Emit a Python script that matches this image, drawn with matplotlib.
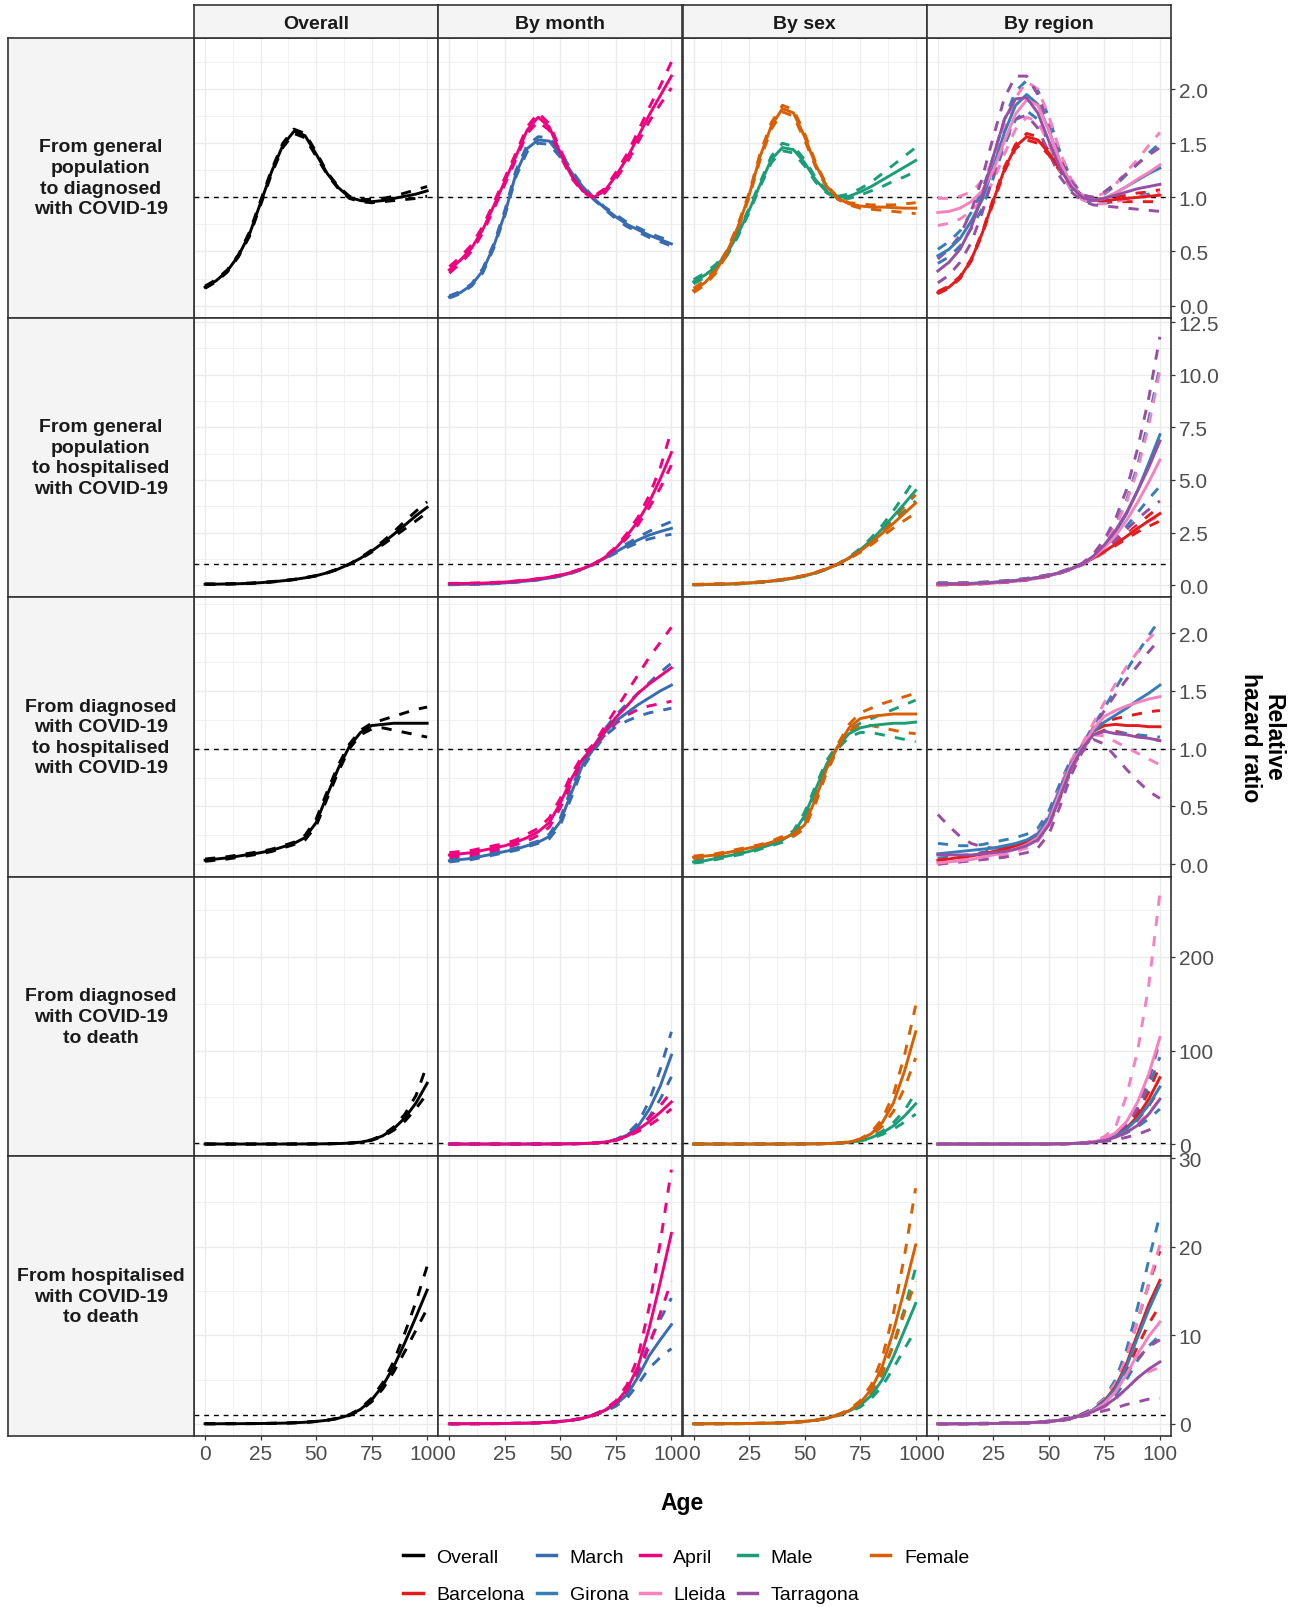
# -*- coding: utf-8 -*-
"""
Relative hazard ratio by age for the COVID-19 transitions, overall and by month, sex and region
"""

import numpy as np
import matplotlib.pyplot as plt
from matplotlib.lines import Line2D

plt.rcParams['font.family'] = ['Liberation Sans', 'DejaVu Sans']

AGES = [0, 5, 10, 15, 20, 25, 30, 35, 40, 45, 50, 55, 60, 65, 70, 75, 80, 85, 90, 95, 100]

# ---- row 1: general population -> diagnosed  (estimate, lower, upper)
r1_overall = [[0.17, 0.23, 0.32, 0.46, 0.66, 0.95, 1.24, 1.48, 1.61, 1.57, 1.40, 1.22, 1.09, 1.00, 0.97, 0.96, 0.97, 0.99, 1.01, 1.03, 1.06],
              [0.16, 0.22, 0.31, 0.45, 0.64, 0.93, 1.22, 1.46, 1.59, 1.55, 1.38, 1.21, 1.08, 0.99, 0.96, 0.95, 0.96, 0.97, 0.98, 0.99, 1.01],
              [0.18, 0.24, 0.33, 0.47, 0.68, 0.97, 1.26, 1.50, 1.63, 1.59, 1.42, 1.23, 1.10, 1.01, 0.98, 0.98, 0.99, 1.01, 1.04, 1.07, 1.10]]
r1_march = [[0.08, 0.12, 0.19, 0.32, 0.55, 0.85, 1.22, 1.45, 1.53, 1.52, 1.39, 1.23, 1.10, 0.99, 0.90, 0.82, 0.75, 0.70, 0.65, 0.61, 0.57],
            [0.07, 0.11, 0.18, 0.30, 0.53, 0.83, 1.19, 1.42, 1.50, 1.49, 1.37, 1.21, 1.09, 0.98, 0.89, 0.80, 0.73, 0.68, 0.63, 0.59, 0.55],
            [0.09, 0.13, 0.20, 0.34, 0.57, 0.88, 1.25, 1.48, 1.56, 1.55, 1.42, 1.25, 1.11, 1.00, 0.91, 0.84, 0.77, 0.72, 0.67, 0.63, 0.60]]
r1_april = [[0.33, 0.42, 0.53, 0.70, 0.92, 1.15, 1.38, 1.62, 1.74, 1.65, 1.41, 1.20, 1.06, 1.00, 1.06, 1.20, 1.36, 1.56, 1.76, 1.94, 2.12],
            [0.30, 0.39, 0.50, 0.67, 0.89, 1.12, 1.35, 1.59, 1.70, 1.62, 1.38, 1.18, 1.05, 0.99, 1.04, 1.17, 1.32, 1.51, 1.70, 1.86, 2.01],
            [0.36, 0.45, 0.56, 0.73, 0.95, 1.18, 1.41, 1.65, 1.78, 1.68, 1.44, 1.22, 1.07, 1.01, 1.08, 1.23, 1.40, 1.61, 1.83, 2.03, 2.25]]
r1_male = [[0.22, 0.28, 0.36, 0.48, 0.66, 0.88, 1.12, 1.35, 1.46, 1.44, 1.32, 1.16, 1.05, 1.00, 1.01, 1.05, 1.10, 1.16, 1.22, 1.28, 1.34],
           [0.20, 0.26, 0.34, 0.46, 0.64, 0.86, 1.10, 1.32, 1.43, 1.41, 1.29, 1.14, 1.04, 0.99, 0.99, 1.02, 1.06, 1.10, 1.15, 1.19, 1.24],
           [0.24, 0.30, 0.38, 0.50, 0.68, 0.90, 1.14, 1.38, 1.50, 1.47, 1.35, 1.18, 1.06, 1.01, 1.03, 1.08, 1.14, 1.22, 1.30, 1.38, 1.46]]
r1_female = [[0.14, 0.21, 0.32, 0.49, 0.73, 1.02, 1.38, 1.66, 1.82, 1.78, 1.56, 1.30, 1.10, 0.99, 0.94, 0.92, 0.91, 0.91, 0.905, 0.90, 0.90],
             [0.12, 0.19, 0.30, 0.47, 0.71, 1.00, 1.35, 1.63, 1.79, 1.75, 1.53, 1.28, 1.09, 0.98, 0.93, 0.90, 0.89, 0.88, 0.87, 0.86, 0.85],
             [0.16, 0.23, 0.34, 0.51, 0.75, 1.04, 1.41, 1.69, 1.85, 1.81, 1.59, 1.32, 1.11, 1.00, 0.95, 0.94, 0.93, 0.93, 0.93, 0.94, 0.95]]
r1_barcelona = [[0.12, 0.17, 0.26, 0.42, 0.67, 0.97, 1.26, 1.47, 1.56, 1.53, 1.41, 1.26, 1.12, 1.00, 0.97, 0.97, 0.98, 0.99, 1.00, 1.01, 1.02],
                [0.11, 0.16, 0.25, 0.41, 0.66, 0.95, 1.24, 1.45, 1.53, 1.50, 1.39, 1.24, 1.11, 0.99, 0.96, 0.95, 0.96, 0.96, 0.96, 0.96, 0.96],
                [0.13, 0.18, 0.27, 0.43, 0.68, 0.99, 1.28, 1.49, 1.59, 1.56, 1.43, 1.28, 1.13, 1.01, 0.98, 0.99, 1.00, 1.02, 1.04, 1.05, 1.07]]
r1_girona = [[0.46, 0.52, 0.62, 0.78, 0.98, 1.28, 1.60, 1.85, 1.95, 1.86, 1.62, 1.33, 1.12, 1.00, 0.97, 0.99, 1.04, 1.10, 1.16, 1.22, 1.27],
             [0.39, 0.45, 0.55, 0.71, 0.90, 1.18, 1.48, 1.72, 1.80, 1.72, 1.50, 1.25, 1.07, 0.98, 0.94, 0.95, 0.97, 0.99, 1.01, 1.03, 1.06],
             [0.52, 0.59, 0.69, 0.86, 1.06, 1.38, 1.72, 1.98, 2.08, 1.99, 1.74, 1.42, 1.17, 1.02, 1.00, 1.03, 1.11, 1.21, 1.31, 1.41, 1.50]]
r1_lleida = [[0.86, 0.87, 0.90, 0.96, 1.06, 1.25, 1.52, 1.77, 1.90, 1.85, 1.62, 1.33, 1.12, 1.00, 0.97, 0.99, 1.04, 1.10, 1.17, 1.23, 1.30],
             [0.74, 0.76, 0.80, 0.87, 0.98, 1.15, 1.40, 1.63, 1.74, 1.70, 1.50, 1.25, 1.07, 0.98, 0.94, 0.94, 0.96, 0.98, 1.00, 1.02, 1.04],
             [0.99, 0.99, 1.01, 1.05, 1.15, 1.35, 1.65, 1.92, 2.07, 2.00, 1.75, 1.42, 1.17, 1.02, 1.00, 1.04, 1.12, 1.24, 1.35, 1.48, 1.60]]
r1_tarragona = [[0.32, 0.40, 0.52, 0.72, 1.02, 1.38, 1.72, 1.91, 1.92, 1.78, 1.52, 1.27, 1.10, 1.00, 0.97, 0.99, 1.02, 1.05, 1.08, 1.10, 1.12],
                [0.21, 0.28, 0.40, 0.58, 0.86, 1.20, 1.52, 1.72, 1.76, 1.64, 1.41, 1.19, 1.05, 0.97, 0.93, 0.92, 0.91, 0.90, 0.89, 0.88, 0.87],
                [0.43, 0.52, 0.65, 0.87, 1.18, 1.56, 1.92, 2.12, 2.12, 1.95, 1.65, 1.36, 1.15, 1.02, 1.00, 1.05, 1.13, 1.22, 1.31, 1.39, 1.46]]

# ---- row 2: general population -> hospitalised
r2_overall = [[0.05, 0.05, 0.06, 0.07, 0.09, 0.12, 0.16, 0.21, 0.27, 0.35, 0.45, 0.59, 0.77, 1.00, 1.28, 1.62, 2.00, 2.42, 2.86, 3.30, 3.70],
              [0.04, 0.04, 0.05, 0.06, 0.08, 0.11, 0.15, 0.20, 0.26, 0.34, 0.44, 0.58, 0.76, 0.99, 1.25, 1.57, 1.92, 2.30, 2.68, 3.06, 3.45],
              [0.06, 0.06, 0.07, 0.08, 0.10, 0.13, 0.17, 0.22, 0.28, 0.36, 0.46, 0.60, 0.78, 1.01, 1.31, 1.67, 2.08, 2.54, 3.04, 3.52, 3.96]]
r2_march = [[0.03, 0.04, 0.05, 0.06, 0.08, 0.11, 0.15, 0.20, 0.26, 0.34, 0.44, 0.58, 0.77, 1.00, 1.28, 1.58, 1.88, 2.15, 2.38, 2.55, 2.70],
            [0.02, 0.03, 0.04, 0.05, 0.07, 0.10, 0.14, 0.19, 0.25, 0.33, 0.43, 0.57, 0.76, 0.99, 1.25, 1.53, 1.79, 2.02, 2.20, 2.32, 2.42],
            [0.04, 0.05, 0.06, 0.07, 0.09, 0.12, 0.16, 0.21, 0.27, 0.35, 0.45, 0.59, 0.78, 1.01, 1.31, 1.63, 1.97, 2.28, 2.56, 2.80, 3.02]]
r2_april = [[0.08, 0.08, 0.09, 0.10, 0.12, 0.15, 0.19, 0.24, 0.30, 0.38, 0.48, 0.61, 0.79, 1.00, 1.32, 1.76, 2.35, 3.05, 3.95, 5.05, 6.30],
            [0.07, 0.07, 0.08, 0.09, 0.11, 0.14, 0.18, 0.23, 0.29, 0.37, 0.47, 0.60, 0.78, 0.99, 1.29, 1.70, 2.24, 2.88, 3.68, 4.62, 5.70],
            [0.09, 0.09, 0.10, 0.11, 0.13, 0.16, 0.20, 0.25, 0.31, 0.39, 0.49, 0.62, 0.80, 1.01, 1.35, 1.82, 2.46, 3.24, 4.25, 5.58, 7.35]]
r2_male = [[0.02, 0.03, 0.04, 0.05, 0.07, 0.10, 0.14, 0.19, 0.25, 0.33, 0.44, 0.58, 0.77, 1.00, 1.30, 1.68, 2.14, 2.68, 3.28, 3.88, 4.50],
           [0.02, 0.02, 0.03, 0.04, 0.06, 0.09, 0.13, 0.18, 0.24, 0.32, 0.43, 0.57, 0.76, 0.99, 1.27, 1.62, 2.04, 2.52, 3.04, 3.52, 4.00],
           [0.03, 0.04, 0.05, 0.06, 0.08, 0.11, 0.15, 0.20, 0.26, 0.34, 0.45, 0.59, 0.78, 1.01, 1.33, 1.74, 2.25, 2.85, 3.54, 4.30, 5.10]]
r2_female = [[0.03, 0.04, 0.05, 0.06, 0.08, 0.11, 0.15, 0.20, 0.27, 0.35, 0.46, 0.60, 0.78, 1.00, 1.28, 1.62, 2.02, 2.47, 2.94, 3.42, 3.90],
             [0.02, 0.03, 0.04, 0.05, 0.07, 0.10, 0.14, 0.19, 0.26, 0.34, 0.45, 0.59, 0.77, 0.99, 1.25, 1.56, 1.92, 2.32, 2.72, 3.08, 3.42],
             [0.04, 0.05, 0.06, 0.07, 0.09, 0.12, 0.16, 0.21, 0.28, 0.36, 0.47, 0.61, 0.79, 1.01, 1.31, 1.68, 2.12, 2.62, 3.16, 3.74, 4.30]]
r2_barcelona = [[0.02, 0.03, 0.04, 0.06, 0.08, 0.11, 0.15, 0.20, 0.26, 0.34, 0.45, 0.59, 0.77, 1.00, 1.28, 1.60, 1.95, 2.32, 2.70, 3.06, 3.40],
                [0.02, 0.02, 0.03, 0.05, 0.07, 0.10, 0.14, 0.19, 0.25, 0.33, 0.44, 0.58, 0.76, 0.99, 1.26, 1.56, 1.88, 2.21, 2.53, 2.80, 3.05],
                [0.03, 0.04, 0.05, 0.07, 0.09, 0.12, 0.16, 0.21, 0.27, 0.35, 0.46, 0.60, 0.78, 1.01, 1.30, 1.64, 2.02, 2.43, 2.88, 3.32, 3.75]]
r2_girona = [[0.08, 0.08, 0.08, 0.09, 0.11, 0.14, 0.18, 0.23, 0.29, 0.37, 0.47, 0.60, 0.78, 1.00, 1.35, 1.85, 2.50, 3.40, 4.50, 5.80, 7.15],
             [0.04, 0.05, 0.05, 0.06, 0.08, 0.11, 0.15, 0.20, 0.26, 0.34, 0.44, 0.58, 0.76, 0.98, 1.28, 1.68, 2.18, 2.80, 3.45, 4.10, 4.70],
             [0.12, 0.12, 0.12, 0.13, 0.14, 0.17, 0.21, 0.26, 0.32, 0.40, 0.50, 0.62, 0.80, 1.02, 1.42, 2.02, 2.85, 4.05, 5.70, 7.90, 10.40]]
r2_lleida = [[0.05, 0.05, 0.06, 0.07, 0.09, 0.12, 0.16, 0.21, 0.27, 0.35, 0.46, 0.59, 0.77, 1.00, 1.33, 1.78, 2.35, 3.08, 3.95, 4.90, 5.95],
             [0.02, 0.02, 0.03, 0.04, 0.06, 0.09, 0.13, 0.18, 0.24, 0.32, 0.43, 0.57, 0.75, 0.97, 1.25, 1.58, 1.95, 2.35, 2.75, 3.05, 3.30],
             [0.09, 0.09, 0.10, 0.11, 0.13, 0.15, 0.19, 0.24, 0.30, 0.38, 0.49, 0.62, 0.80, 1.03, 1.42, 1.98, 2.78, 3.95, 5.50, 7.60, 10.20]]
r2_tarragona = [[0.06, 0.06, 0.07, 0.08, 0.10, 0.13, 0.17, 0.22, 0.28, 0.36, 0.46, 0.60, 0.78, 1.00, 1.38, 1.92, 2.60, 3.45, 4.50, 5.60, 6.85],
                [0.03, 0.03, 0.04, 0.05, 0.07, 0.10, 0.14, 0.19, 0.25, 0.33, 0.43, 0.57, 0.75, 0.97, 1.30, 1.70, 2.15, 2.65, 3.15, 3.60, 4.00],
                [0.10, 0.10, 0.11, 0.12, 0.14, 0.17, 0.21, 0.26, 0.32, 0.40, 0.50, 0.63, 0.81, 1.04, 1.48, 2.18, 3.15, 4.55, 6.50, 8.90, 11.80]]

# ---- row 3: diagnosed -> hospitalised
r3_overall = [[0.035, 0.045, 0.055, 0.07, 0.085, 0.10, 0.12, 0.15, 0.18, 0.23, 0.36, 0.60, 0.83, 1.02, 1.14, 1.20, 1.21, 1.22, 1.22, 1.22, 1.22],
              [0.025, 0.035, 0.045, 0.06, 0.075, 0.09, 0.11, 0.14, 0.17, 0.21, 0.33, 0.57, 0.80, 1.00, 1.12, 1.17, 1.18, 1.16, 1.14, 1.12, 1.10],
              [0.045, 0.055, 0.065, 0.08, 0.095, 0.11, 0.13, 0.16, 0.19, 0.25, 0.39, 0.63, 0.86, 1.04, 1.16, 1.22, 1.25, 1.28, 1.31, 1.34, 1.36]]
r3_march = [[0.03, 0.04, 0.05, 0.07, 0.09, 0.11, 0.13, 0.16, 0.19, 0.24, 0.37, 0.62, 0.86, 1.00, 1.14, 1.24, 1.31, 1.38, 1.44, 1.50, 1.55],
            [0.02, 0.03, 0.04, 0.06, 0.08, 0.10, 0.12, 0.15, 0.18, 0.22, 0.34, 0.58, 0.83, 0.98, 1.11, 1.19, 1.24, 1.28, 1.31, 1.33, 1.35],
            [0.04, 0.05, 0.06, 0.08, 0.10, 0.12, 0.14, 0.17, 0.20, 0.26, 0.40, 0.66, 0.89, 1.02, 1.17, 1.29, 1.39, 1.48, 1.57, 1.66, 1.74]]
r3_april = [[0.08, 0.09, 0.10, 0.12, 0.14, 0.16, 0.19, 0.23, 0.28, 0.36, 0.53, 0.74, 0.91, 1.02, 1.15, 1.27, 1.37, 1.48, 1.56, 1.63, 1.70],
            [0.06, 0.07, 0.08, 0.10, 0.12, 0.14, 0.17, 0.20, 0.25, 0.32, 0.49, 0.70, 0.88, 1.00, 1.12, 1.22, 1.29, 1.34, 1.37, 1.39, 1.41],
            [0.10, 0.11, 0.12, 0.14, 0.16, 0.18, 0.21, 0.26, 0.31, 0.40, 0.57, 0.78, 0.94, 1.04, 1.19, 1.34, 1.49, 1.64, 1.79, 1.92, 2.05]]
r3_male = [[0.02, 0.03, 0.05, 0.07, 0.09, 0.11, 0.14, 0.17, 0.21, 0.27, 0.42, 0.65, 0.87, 1.02, 1.13, 1.18, 1.20, 1.21, 1.22, 1.22, 1.23],
           [0.01, 0.02, 0.04, 0.06, 0.08, 0.10, 0.13, 0.16, 0.19, 0.25, 0.39, 0.62, 0.84, 1.00, 1.10, 1.14, 1.14, 1.12, 1.10, 1.08, 1.06],
           [0.03, 0.04, 0.06, 0.08, 0.10, 0.12, 0.15, 0.18, 0.23, 0.29, 0.45, 0.68, 0.90, 1.04, 1.16, 1.22, 1.26, 1.30, 1.34, 1.38, 1.42]]
r3_female = [[0.06, 0.07, 0.08, 0.10, 0.12, 0.14, 0.16, 0.19, 0.22, 0.26, 0.34, 0.57, 0.83, 1.02, 1.18, 1.26, 1.28, 1.29, 1.30, 1.30, 1.30],
             [0.05, 0.06, 0.07, 0.09, 0.11, 0.13, 0.15, 0.18, 0.21, 0.24, 0.31, 0.53, 0.80, 1.00, 1.15, 1.21, 1.20, 1.18, 1.16, 1.14, 1.13],
             [0.07, 0.08, 0.09, 0.11, 0.13, 0.15, 0.17, 0.20, 0.24, 0.28, 0.37, 0.61, 0.86, 1.04, 1.21, 1.31, 1.35, 1.39, 1.42, 1.45, 1.48]]
r3_barcelona = [[0.035, 0.045, 0.06, 0.07, 0.09, 0.11, 0.13, 0.16, 0.19, 0.24, 0.36, 0.60, 0.84, 1.01, 1.15, 1.20, 1.21, 1.20, 1.20, 1.19, 1.19],
                [0.02, 0.03, 0.045, 0.06, 0.08, 0.10, 0.12, 0.15, 0.18, 0.22, 0.33, 0.57, 0.81, 0.99, 1.12, 1.16, 1.15, 1.13, 1.11, 1.09, 1.07],
                [0.05, 0.06, 0.075, 0.08, 0.10, 0.12, 0.14, 0.17, 0.20, 0.26, 0.39, 0.63, 0.87, 1.03, 1.18, 1.23, 1.26, 1.28, 1.30, 1.32, 1.33]]
r3_girona = [[0.09, 0.10, 0.11, 0.12, 0.13, 0.14, 0.16, 0.18, 0.21, 0.26, 0.40, 0.65, 0.87, 1.01, 1.15, 1.23, 1.29, 1.35, 1.42, 1.48, 1.55],
             [0.05, 0.06, 0.07, 0.08, 0.10, 0.11, 0.13, 0.15, 0.18, 0.22, 0.35, 0.60, 0.83, 0.99, 1.12, 1.15, 1.14, 1.13, 1.12, 1.11, 1.10],
             [0.18, 0.17, 0.16, 0.16, 0.17, 0.19, 0.21, 0.23, 0.26, 0.31, 0.46, 0.70, 0.91, 1.03, 1.20, 1.35, 1.52, 1.68, 1.83, 1.98, 2.12]]
r3_lleida = [[0.01, 0.02, 0.03, 0.04, 0.06, 0.08, 0.10, 0.13, 0.17, 0.23, 0.37, 0.62, 0.86, 1.01, 1.17, 1.28, 1.33, 1.37, 1.40, 1.43, 1.45],
             [0.00, 0.01, 0.02, 0.03, 0.04, 0.06, 0.08, 0.11, 0.14, 0.20, 0.33, 0.57, 0.82, 0.99, 1.12, 1.11, 1.06, 1.01, 0.96, 0.91, 0.86],
             [0.03, 0.04, 0.05, 0.06, 0.08, 0.10, 0.12, 0.15, 0.20, 0.27, 0.41, 0.67, 0.90, 1.04, 1.22, 1.40, 1.56, 1.71, 1.84, 1.95, 2.05]]
r3_tarragona = [[0.08, 0.08, 0.08, 0.08, 0.09, 0.10, 0.11, 0.13, 0.16, 0.21, 0.34, 0.58, 0.83, 1.00, 1.12, 1.15, 1.13, 1.12, 1.10, 1.09, 1.07],
                [0.00, 0.01, 0.02, 0.03, 0.04, 0.05, 0.06, 0.08, 0.10, 0.14, 0.26, 0.50, 0.77, 0.97, 1.08, 1.04, 0.93, 0.82, 0.72, 0.63, 0.57],
                [0.43, 0.33, 0.24, 0.18, 0.15, 0.14, 0.14, 0.16, 0.20, 0.27, 0.42, 0.66, 0.88, 1.03, 1.18, 1.33, 1.47, 1.60, 1.72, 1.84, 1.95]]

# ---- row 4: diagnosed -> death
r4_overall = [[0.00, 0.00, 0.00, 0.00, 0.00, 0.01, 0.01, 0.02, 0.04, 0.08, 0.15, 0.30, 0.55, 1.00, 2.0, 4.3, 8.8, 16.5, 28, 44, 65],
              [0.00, 0.00, 0.00, 0.00, 0.00, 0.01, 0.01, 0.02, 0.04, 0.07, 0.14, 0.28, 0.52, 0.95, 1.9, 4.0, 8.0, 14.8, 24.5, 38, 54],
              [0.00, 0.00, 0.00, 0.00, 0.00, 0.01, 0.01, 0.02, 0.05, 0.09, 0.16, 0.32, 0.58, 1.05, 2.1, 4.6, 9.6, 18.3, 32, 52, 85]]
r4_march = [[0.00, 0.00, 0.00, 0.00, 0.00, 0.01, 0.01, 0.02, 0.04, 0.08, 0.15, 0.30, 0.55, 1.00, 2.0, 4.5, 9.5, 19, 37, 62, 95],
            [0.00, 0.00, 0.00, 0.00, 0.00, 0.01, 0.01, 0.02, 0.04, 0.07, 0.14, 0.28, 0.52, 0.95, 1.9, 4.1, 8.3, 16, 29, 48, 72],
            [0.00, 0.00, 0.00, 0.00, 0.00, 0.01, 0.01, 0.02, 0.05, 0.09, 0.16, 0.32, 0.58, 1.05, 2.1, 4.9, 10.8, 22.5, 46, 80, 120]]
r4_april = [[0.00, 0.00, 0.00, 0.00, 0.00, 0.01, 0.01, 0.02, 0.04, 0.08, 0.15, 0.30, 0.55, 1.00, 2.0, 4.3, 8.5, 15.5, 24, 34, 45],
            [0.00, 0.00, 0.00, 0.00, 0.00, 0.01, 0.01, 0.02, 0.04, 0.07, 0.14, 0.28, 0.52, 0.95, 1.85, 3.9, 7.6, 13.5, 20, 28, 37.5],
            [0.00, 0.00, 0.00, 0.00, 0.00, 0.01, 0.01, 0.02, 0.05, 0.09, 0.16, 0.32, 0.58, 1.05, 2.15, 4.7, 9.5, 17.5, 28, 41, 56]]
r4_male = [[0.00, 0.00, 0.00, 0.00, 0.00, 0.01, 0.01, 0.02, 0.04, 0.08, 0.15, 0.30, 0.55, 1.00, 1.8, 3.5, 6.8, 12, 19.5, 30, 43],
           [0.00, 0.00, 0.00, 0.00, 0.00, 0.01, 0.01, 0.02, 0.04, 0.07, 0.14, 0.28, 0.52, 0.95, 1.7, 3.2, 6.0, 10.3, 16, 23.5, 32],
           [0.00, 0.00, 0.00, 0.00, 0.00, 0.01, 0.01, 0.02, 0.05, 0.09, 0.16, 0.32, 0.58, 1.05, 1.9, 3.8, 7.6, 13.8, 23, 36, 55]]
r4_female = [[0.00, 0.00, 0.00, 0.00, 0.00, 0.01, 0.01, 0.02, 0.04, 0.08, 0.15, 0.30, 0.55, 1.00, 2.2, 5.0, 11, 23, 44, 78, 120],
             [0.00, 0.00, 0.00, 0.00, 0.00, 0.01, 0.01, 0.02, 0.04, 0.07, 0.14, 0.28, 0.52, 0.95, 2.0, 4.5, 9.5, 19, 35, 60, 92],
             [0.00, 0.00, 0.00, 0.00, 0.00, 0.01, 0.01, 0.02, 0.05, 0.09, 0.16, 0.32, 0.58, 1.05, 2.4, 5.5, 12.5, 27, 53, 95, 148]]
r4_barcelona = [[0.00, 0.00, 0.00, 0.00, 0.00, 0.01, 0.01, 0.02, 0.04, 0.08, 0.15, 0.30, 0.55, 1.00, 2.0, 4.4, 9.0, 17, 30, 48, 71],
                [0.00, 0.00, 0.00, 0.00, 0.00, 0.01, 0.01, 0.02, 0.04, 0.07, 0.14, 0.28, 0.52, 0.95, 1.9, 4.1, 8.2, 15, 26, 41, 59],
                [0.00, 0.00, 0.00, 0.00, 0.00, 0.01, 0.01, 0.02, 0.05, 0.09, 0.16, 0.32, 0.58, 1.05, 2.1, 4.7, 9.8, 19, 34, 56, 84]]
r4_girona = [[0.00, 0.00, 0.00, 0.00, 0.00, 0.01, 0.01, 0.02, 0.04, 0.08, 0.15, 0.30, 0.55, 1.00, 2.0, 4.3, 8.5, 16, 27, 42, 61],
             [0.00, 0.00, 0.00, 0.00, 0.00, 0.01, 0.01, 0.02, 0.03, 0.06, 0.12, 0.25, 0.48, 0.90, 1.8, 3.6, 6.8, 12, 18.5, 27, 37.5],
             [0.00, 0.00, 0.00, 0.00, 0.00, 0.01, 0.01, 0.02, 0.05, 0.10, 0.18, 0.35, 0.62, 1.10, 2.2, 5.1, 10.5, 21, 38, 62, 93]]
r4_lleida = [[0.00, 0.00, 0.00, 0.00, 0.00, 0.01, 0.01, 0.02, 0.04, 0.08, 0.15, 0.30, 0.55, 1.00, 2.3, 5.5, 12, 24, 45, 75, 114],
             [0.00, 0.00, 0.00, 0.00, 0.00, 0.01, 0.01, 0.02, 0.03, 0.06, 0.11, 0.22, 0.45, 0.85, 1.8, 3.8, 7.5, 13.5, 22, 33, 48],
             [0.00, 0.00, 0.00, 0.00, 0.00, 0.01, 0.01, 0.02, 0.06, 0.11, 0.20, 0.40, 0.70, 1.20, 3.0, 8.0, 18, 52, 100, 170, 268]]
r4_tarragona = [[0.00, 0.00, 0.00, 0.00, 0.00, 0.01, 0.01, 0.02, 0.04, 0.08, 0.15, 0.30, 0.55, 1.00, 1.9, 3.8, 7.2, 12.5, 20, 32, 48],
                [0.00, 0.00, 0.00, 0.00, 0.00, 0.01, 0.01, 0.02, 0.03, 0.06, 0.11, 0.22, 0.45, 0.85, 1.5, 2.7, 4.6, 7.2, 10.5, 15, 20],
                [0.00, 0.00, 0.00, 0.00, 0.00, 0.01, 0.01, 0.02, 0.06, 0.11, 0.20, 0.40, 0.70, 1.15, 2.4, 5.2, 11, 21, 39, 68, 111]]

# ---- row 5: hospitalised -> death
r5_overall = [[0.02, 0.02, 0.03, 0.03, 0.04, 0.05, 0.07, 0.09, 0.13, 0.19, 0.28, 0.42, 0.64, 1.00, 1.65, 2.7, 4.3, 6.5, 9.2, 12.1, 15.1],
              [0.01, 0.01, 0.02, 0.02, 0.03, 0.04, 0.06, 0.08, 0.12, 0.18, 0.27, 0.40, 0.62, 0.95, 1.55, 2.5, 3.95, 5.9, 8.2, 10.6, 13.0],
              [0.03, 0.03, 0.04, 0.04, 0.05, 0.06, 0.08, 0.10, 0.14, 0.20, 0.29, 0.44, 0.66, 1.05, 1.75, 2.9, 4.65, 7.1, 10.3, 13.8, 17.8]]
r5_march = [[0.02, 0.02, 0.03, 0.03, 0.04, 0.05, 0.07, 0.09, 0.13, 0.19, 0.28, 0.42, 0.64, 1.00, 1.5, 2.2, 3.3, 5.3, 7.7, 9.5, 11.2],
            [0.01, 0.01, 0.02, 0.02, 0.03, 0.04, 0.06, 0.08, 0.12, 0.18, 0.27, 0.40, 0.62, 0.95, 1.4, 2.0, 2.9, 4.5, 6.3, 7.5, 8.5],
            [0.03, 0.03, 0.04, 0.04, 0.05, 0.06, 0.08, 0.10, 0.14, 0.20, 0.29, 0.44, 0.66, 1.05, 1.6, 2.45, 3.7, 6.1, 9.2, 11.8, 14.2]]
r5_april = [[0.02, 0.02, 0.03, 0.03, 0.04, 0.05, 0.07, 0.09, 0.13, 0.19, 0.28, 0.42, 0.64, 1.00, 1.55, 2.4, 3.9, 6.5, 10.8, 16.0, 21.5],
            [0.01, 0.01, 0.02, 0.02, 0.03, 0.04, 0.06, 0.08, 0.12, 0.18, 0.27, 0.40, 0.62, 0.95, 1.45, 2.2, 3.5, 5.6, 8.8, 12.5, 16.1],
            [0.03, 0.03, 0.04, 0.04, 0.05, 0.06, 0.08, 0.10, 0.14, 0.20, 0.29, 0.44, 0.66, 1.05, 1.65, 2.6, 4.4, 7.6, 13.2, 20.5, 28.7]]
r5_male = [[0.02, 0.02, 0.03, 0.03, 0.04, 0.05, 0.07, 0.09, 0.13, 0.19, 0.28, 0.42, 0.64, 1.00, 1.45, 2.1, 3.2, 5.0, 7.6, 10.6, 13.6],
           [0.01, 0.01, 0.02, 0.02, 0.03, 0.04, 0.06, 0.08, 0.12, 0.18, 0.27, 0.40, 0.62, 0.95, 1.35, 1.9, 2.85, 4.3, 6.3, 8.5, 10.6],
           [0.03, 0.03, 0.04, 0.04, 0.05, 0.06, 0.08, 0.10, 0.14, 0.20, 0.29, 0.44, 0.66, 1.05, 1.55, 2.3, 3.55, 5.8, 9.0, 13.0, 17.6]]
r5_female = [[0.02, 0.02, 0.03, 0.03, 0.04, 0.05, 0.07, 0.09, 0.13, 0.19, 0.28, 0.42, 0.64, 1.00, 1.5, 2.35, 3.9, 6.5, 10.5, 15.2, 20.2],
             [0.01, 0.01, 0.02, 0.02, 0.03, 0.04, 0.06, 0.08, 0.12, 0.18, 0.27, 0.40, 0.62, 0.95, 1.4, 2.15, 3.5, 5.7, 8.9, 12.6, 16.1],
             [0.03, 0.03, 0.04, 0.04, 0.05, 0.06, 0.08, 0.10, 0.14, 0.20, 0.29, 0.44, 0.66, 1.05, 1.6, 2.6, 4.4, 7.5, 12.5, 19.0, 26.6]]
r5_barcelona = [[0.02, 0.02, 0.03, 0.03, 0.04, 0.05, 0.07, 0.09, 0.13, 0.19, 0.28, 0.42, 0.64, 1.00, 1.6, 2.6, 4.2, 6.8, 10.2, 13.5, 16.2],
                [0.01, 0.01, 0.02, 0.02, 0.03, 0.04, 0.06, 0.08, 0.12, 0.18, 0.27, 0.40, 0.62, 0.95, 1.5, 2.4, 3.8, 6.0, 8.8, 11.3, 13.4],
                [0.03, 0.03, 0.04, 0.04, 0.05, 0.06, 0.08, 0.10, 0.14, 0.20, 0.29, 0.44, 0.66, 1.05, 1.7, 2.8, 4.6, 7.6, 11.7, 15.8, 19.5]]
r5_girona = [[0.02, 0.02, 0.03, 0.03, 0.04, 0.05, 0.07, 0.09, 0.13, 0.19, 0.28, 0.42, 0.64, 1.00, 1.6, 2.5, 4.0, 6.5, 9.8, 12.9, 15.7],
             [0.01, 0.01, 0.01, 0.02, 0.02, 0.03, 0.05, 0.07, 0.10, 0.15, 0.23, 0.36, 0.57, 0.90, 1.4, 2.1, 3.2, 5.0, 7.2, 8.8, 10.0],
             [0.05, 0.05, 0.05, 0.06, 0.07, 0.08, 0.10, 0.12, 0.16, 0.22, 0.32, 0.48, 0.71, 1.10, 1.8, 2.9, 5.0, 8.4, 13.2, 18.5, 23.6]]
r5_lleida = [[0.02, 0.02, 0.03, 0.03, 0.04, 0.05, 0.07, 0.09, 0.13, 0.19, 0.28, 0.42, 0.64, 1.00, 1.5, 2.3, 3.6, 5.6, 7.9, 9.9, 11.5],
             [0.01, 0.01, 0.01, 0.02, 0.02, 0.03, 0.05, 0.07, 0.10, 0.15, 0.23, 0.36, 0.57, 0.90, 1.3, 1.9, 2.8, 4.0, 5.2, 5.9, 6.4],
             [0.05, 0.05, 0.05, 0.06, 0.07, 0.08, 0.10, 0.12, 0.16, 0.22, 0.32, 0.48, 0.71, 1.10, 1.7, 2.8, 4.6, 7.6, 11.7, 15.9, 20.2]]
r5_tarragona = [[0.02, 0.02, 0.03, 0.03, 0.04, 0.05, 0.07, 0.09, 0.13, 0.19, 0.28, 0.42, 0.64, 1.00, 1.4, 2.0, 2.9, 4.0, 5.2, 6.2, 7.0],
                [0.01, 0.01, 0.01, 0.02, 0.02, 0.03, 0.05, 0.07, 0.10, 0.15, 0.23, 0.35, 0.55, 0.85, 1.15, 1.5, 1.8, 2.2, 2.5, 2.8, 2.9],
                [0.05, 0.05, 0.05, 0.06, 0.07, 0.08, 0.10, 0.12, 0.16, 0.22, 0.32, 0.48, 0.72, 1.15, 1.7, 2.6, 4.0, 5.7, 7.4, 8.7, 9.5]]

ROW_LABELS = ["From general\npopulation\nto diagnosed\nwith COVID-19",
              "From general\npopulation\nto hospitalised\nwith COVID-19",
              "From diagnosed\nwith COVID-19\nto hospitalised\nwith COVID-19",
              "From diagnosed\nwith COVID-19\nto death",
              "From hospitalised\nwith COVID-19\nto death"]
COL_LABELS = ["Overall", "By month", "By sex", "By region"]
COL_GROUPS = [["Overall"], ["March", "April"], ["Male", "Female"],
              ["Barcelona", "Girona", "Lleida", "Tarragona"]]

COLORS = {"Overall": "#000000", "March": "#386CB0", "April": "#F0027F",
          "Male": "#1B9E77", "Female": "#D95F02",
          "Barcelona": "#E41A1C", "Girona": "#377EB8", "Lleida": "#F781BF", "Tarragona": "#984EA3"}

ROWS = [
    {"Overall": r1_overall, "March": r1_march, "April": r1_april, "Male": r1_male, "Female": r1_female,
     "Barcelona": r1_barcelona, "Girona": r1_girona, "Lleida": r1_lleida, "Tarragona": r1_tarragona},
    {"Overall": r2_overall, "March": r2_march, "April": r2_april, "Male": r2_male, "Female": r2_female,
     "Barcelona": r2_barcelona, "Girona": r2_girona, "Lleida": r2_lleida, "Tarragona": r2_tarragona},
    {"Overall": r3_overall, "March": r3_march, "April": r3_april, "Male": r3_male, "Female": r3_female,
     "Barcelona": r3_barcelona, "Girona": r3_girona, "Lleida": r3_lleida, "Tarragona": r3_tarragona},
    {"Overall": r4_overall, "March": r4_march, "April": r4_april, "Male": r4_male, "Female": r4_female,
     "Barcelona": r4_barcelona, "Girona": r4_girona, "Lleida": r4_lleida, "Tarragona": r4_tarragona},
    {"Overall": r5_overall, "March": r5_march, "April": r5_april, "Male": r5_male, "Female": r5_female,
     "Barcelona": r5_barcelona, "Girona": r5_girona, "Lleida": r5_lleida, "Tarragona": r5_tarragona},
]

Y_TICKS = [[0, 0.5, 1.0, 1.5, 2.0],
           [0, 2.5, 5.0, 7.5, 10.0, 12.5],
           [0, 0.5, 1.0, 1.5, 2.0],
           [0, 100, 200],
           [0, 10, 20, 30]]
Y_TICKLABELS = [["0.0", "0.5", "1.0", "1.5", "2.0"],
                ["0.0", "2.5", "5.0", "7.5", "10.0", "12.5"],
                ["0.0", "0.5", "1.0", "1.5", "2.0"],
                ["0", "100", "200"],
                ["0", "10", "20", "30"]]
Y_MINOR = [[0.25, 0.75, 1.25, 1.75, 2.25],
           [1.25, 3.75, 6.25, 8.75, 11.25],
           [0.25, 0.75, 1.25, 1.75, 2.25],
           [50, 150, 250],
           [5, 15, 25]]
Y_LIMS = [(-0.111, 2.472), (-0.57, 12.71), (-0.109, 2.311), (-13.2, 285.7), (-1.36, 30.19)]
X_TICKS = [0, 25, 50, 75, 100]

# layout in pixels of the 1300x1608 output
W, H = 1300, 1608
LEFT, TOP = 194, 39
PW, PH = 244.25, 279.6
BORDER = "#333333"
STRIP_BG = "#F4F4F4"


def px_box(x0, y0, w, h):
    return [x0 / W, 1 - (y0 + h) / H, w / W, h / H]


def style_strip(sax):
    sax.set_facecolor(STRIP_BG)
    sax.set_xticks([])
    sax.set_yticks([])
    for sp in sax.spines.values():
        sp.set_color(BORDER)
        sp.set_linewidth(1.2)


fig = plt.figure(figsize=(W / 100, H / 100), dpi=100)
ages = np.array(AGES)

for r in range(5):
    for c in range(4):
        ax = fig.add_axes(px_box(LEFT + c * PW, TOP + r * PH, PW, PH))
        ax.set_xlim(-5, 105)
        ax.set_ylim(*Y_LIMS[r])
        ax.set_xticks(X_TICKS)
        ax.set_xticks([12.5, 37.5, 62.5, 87.5], minor=True)
        ax.set_yticks(Y_TICKS[r])
        ax.set_yticks(Y_MINOR[r], minor=True)
        ax.grid(which='major', color='#EBEBEB', lw=1.0)
        ax.grid(which='minor', color='#EBEBEB', lw=0.5)
        ax.set_axisbelow(True)
        for sp in ax.spines.values():
            sp.set_color(BORDER)
            sp.set_linewidth(1.2)
        ax.tick_params(which='minor', length=0)
        ax.tick_params(which='major', length=3, width=0.9, color=BORDER,
                       labelsize=15, labelcolor='#4D4D4D', pad=2.5)

        # y axis only on the right column
        ax.yaxis.tick_right()
        if c == 3:
            ax.set_yticklabels(Y_TICKLABELS[r])
        else:
            ax.tick_params(axis='y', which='both', right=False, labelright=False)
        if r == 4:
            ax.set_xticklabels([str(t) for t in X_TICKS])
        else:
            ax.tick_params(axis='x', which='both', bottom=False, labelbottom=False)

        ax.axhline(1, color='black', lw=1.0, dashes=(3.5, 3.5), zorder=1)

        for g in COL_GROUPS[c]:
            est, lo, hi = ROWS[r][g]
            col = COLORS[g]
            ax.plot(ages, lo, color=col, lw=2.1, dashes=(3.5, 3.5), zorder=2)
            ax.plot(ages, hi, color=col, lw=2.1, dashes=(3.5, 3.5), zorder=2)
            ax.plot(ages, est, color=col, lw=2.1, zorder=3)

        if r == 0:
            sax = fig.add_axes(px_box(LEFT + c * PW, 6, PW, TOP - 6))
            style_strip(sax)
            sax.text(0.5, 0.45, COL_LABELS[c], ha='center', va='center',
                     fontsize=14, fontweight='bold', color='#1A1A1A', transform=sax.transAxes)

    # row strip on the left
    rax = fig.add_axes(px_box(8, TOP + r * PH, LEFT - 8, PH))
    style_strip(rax)
    rax.text(0.5, 0.5, ROW_LABELS[r], ha='center', va='center', multialignment='center',
             fontsize=14, fontweight='bold', color='#1A1A1A', linespacing=1.28,
             transform=rax.transAxes)

# axis titles
fig.text((LEFT + 2 * PW) / W, 1 - 1504 / H, "Age", ha='center', va='center',
         fontsize=16.5, fontweight='bold')
fig.text(1262 / W, 1 - (TOP + 2.5 * PH) / H, "Relative\nhazard ratio", ha='center', va='center',
         rotation=270, fontsize=16.5, fontweight='bold', multialignment='center', linespacing=1.0)

# legend, filled column by column like ggplot's two-row guide
order = ["Overall", "Barcelona", "March", "Girona", "April", "Lleida", "Male", "Tarragona", "Female"]
handles = [Line2D([], [], color=COLORS[g], lw=2.5) for g in order]
fig.legend(handles, order, loc='center', bbox_to_anchor=(0.528, 1 - 1577 / H), ncol=5,
           frameon=False, fontsize=14, handlelength=1.0, handletextpad=0.7,
           columnspacing=0.6, labelspacing=1.0, borderpad=0)

fig.savefig("out.png", dpi=100)
